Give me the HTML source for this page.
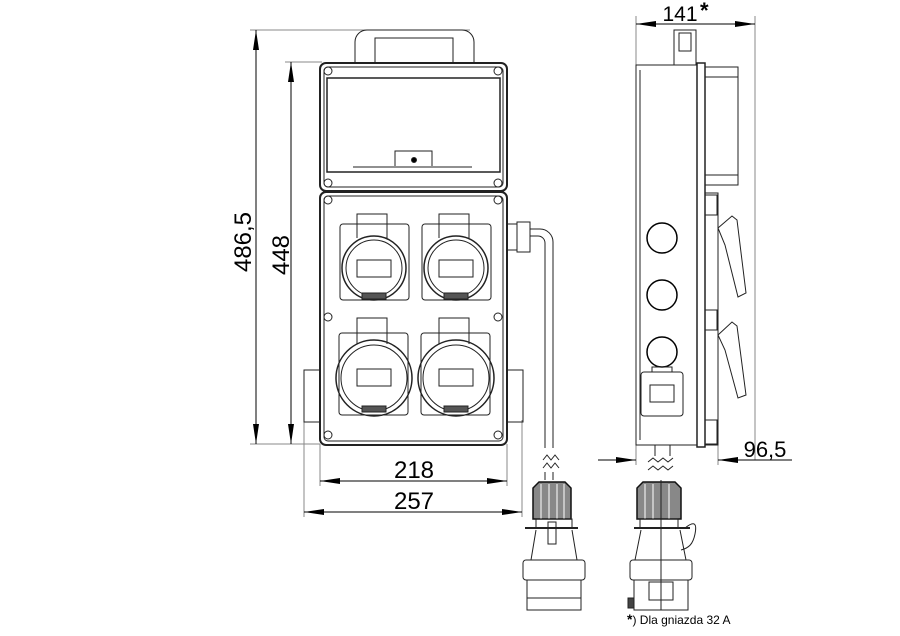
<!DOCTYPE html>
<html><head><style>body{margin:0;background:#fff}svg{display:block}text{font-family:"Liberation Sans",sans-serif;fill:#000}</style></head><body>
<svg width="900" height="636" viewBox="0 0 900 636" xmlns="http://www.w3.org/2000/svg">
<defs>
<marker id="a" viewBox="0 0 20 6" refX="20" refY="3" markerWidth="20" markerHeight="6" orient="auto-start-reverse" markerUnits="userSpaceOnUse"><path d="M0,0L20,3L0,6z" fill="#000"/></marker>
</defs>
<g fill="none" stroke="#888" stroke-width="1">
<line x1="250" y1="30" x2="470" y2="30"/>
<line x1="250" y1="444" x2="320" y2="444"/>
<line x1="285" y1="62" x2="322" y2="62"/>
<line x1="320" y1="444" x2="320" y2="486"/>
<line x1="507" y1="444" x2="507" y2="486"/>
<line x1="304" y1="420" x2="304" y2="517"/>
<line x1="522" y1="420" x2="522" y2="517"/>
<line x1="636" y1="16" x2="636" y2="65"/>
<line x1="755" y1="16" x2="755" y2="460"/>
<line x1="718" y1="445" x2="718" y2="465"/>
<line x1="636" y1="445" x2="636" y2="465"/>
</g>
<g stroke="#000" stroke-width="1" fill="none">
<line x1="256" y1="30" x2="256" y2="444" marker-start="url(#a)" marker-end="url(#a)"/>
<line x1="291" y1="62" x2="291" y2="444" marker-start="url(#a)" marker-end="url(#a)"/>
<line x1="320" y1="481" x2="507" y2="481" marker-start="url(#a)" marker-end="url(#a)"/>
<line x1="304" y1="512" x2="522" y2="512" marker-start="url(#a)" marker-end="url(#a)"/>
<line x1="636" y1="24" x2="755" y2="24" marker-start="url(#a)" marker-end="url(#a)"/>
<line x1="598" y1="460" x2="636" y2="460" marker-end="url(#a)"/>
<line x1="718" y1="460" x2="792" y2="460" marker-start="url(#a)"/>
</g>
<text x="243" y="242" font-size="24" text-anchor="middle" transform="rotate(-90 243 242)" dy="8">486,5</text>
<text x="281" y="255" font-size="24" text-anchor="middle" transform="rotate(-90 281 255)" dy="8">448</text>
<text x="414" y="478" font-size="24" text-anchor="middle">218</text>
<text x="414" y="509" font-size="24" text-anchor="middle">257</text>
<text x="680" y="21" font-size="21" text-anchor="middle">141</text><text x="700" y="18" font-size="22" font-weight="bold">*</text>
<text x="765" y="457" font-size="22" text-anchor="middle">96,5</text>
<text x="627" y="624" font-size="12"><tspan font-weight="bold" font-size="14">*</tspan>) Dla gniazda 32 A</text>

<g stroke="#222" stroke-width="1" fill="none">
<path d="M355,62V42a12,12 0 0 1 12,-12H462a12,12 0 0 1 12,12V62"/>
<path d="M375,62V38H453V62"/>
<rect x="320" y="63" width="187" height="128" rx="6" stroke-width="2"/>
<rect x="324" y="67" width="179" height="120" rx="4"/>
<rect x="327" y="78" width="173" height="94" stroke-width="1.5"/>
<path d="M353,167H472M395,166V151H432V166"/>
<circle cx="414" cy="160" r="2.5" fill="#000"/>
<rect x="320" y="192" width="187" height="253" rx="6" stroke-width="2"/>
<rect x="324" y="196" width="179" height="245" rx="4"/>
<g>
<circle cx="328" cy="71" r="4"/><circle cx="498" cy="71" r="4"/><circle cx="328" cy="183" r="4"/><circle cx="498" cy="183" r="4"/>
<circle cx="328" cy="200" r="4"/><circle cx="498" cy="200" r="4"/><circle cx="328" cy="317" r="4"/><circle cx="498" cy="317" r="4"/><circle cx="328" cy="435" r="4"/><circle cx="498" cy="435" r="4"/>
</g>
<g>
<rect x="340" y="224" width="69" height="76" rx="3"/>
<path d="M357,238V214H387V238"/>
<circle cx="374" cy="268" r="32" stroke-width="1.5"/>
<circle cx="374" cy="268" r="28"/>
<rect x="357" y="260" width="34" height="17"/>
<rect x="362" y="293" width="24" height="6" fill="#555"/>
</g>
<g transform="translate(82,0)">
<rect x="340" y="224" width="69" height="76" rx="3"/>
<path d="M357,238V214H387V238"/>
<circle cx="374" cy="268" r="32" stroke-width="1.5"/>
<circle cx="374" cy="268" r="28"/>
<rect x="357" y="260" width="34" height="17"/>
<rect x="362" y="293" width="24" height="6" fill="#555"/>
</g>
<g>
<rect x="339" y="333" width="69" height="82" rx="3"/>
<path d="M357,344V318H387V344"/>
<circle cx="374" cy="378" r="38" stroke-width="1.5"/>
<circle cx="374" cy="378" r="33"/>
<rect x="357" y="369" width="34" height="17"/>
<rect x="362" y="406" width="24" height="6" fill="#555"/>
</g>
<g transform="translate(82,0)">
<rect x="339" y="333" width="69" height="82" rx="3"/>
<path d="M357,344V318H387V344"/>
<circle cx="374" cy="378" r="38" stroke-width="1.5"/>
<circle cx="374" cy="378" r="33"/>
<rect x="357" y="369" width="34" height="17"/>
<rect x="362" y="406" width="24" height="6" fill="#555"/>
</g>
<rect x="304" y="370" width="16" height="52"/><rect x="507" y="370" width="16" height="52"/>
<rect x="507" y="224" width="10" height="26"/><rect x="517" y="222" width="13" height="30"/>
<path d="M530,229H540a13,13 0 0 1 13,13V448M530,236H538a7,7 0 0 1 7,7V448"/>
<path d="M543,460l4,-5l4,5l4,-5l4,5M543,468l4,-5l4,5l4,-5l4,5"/>
<path d="M545,472V480M553,472V480"/>
<path d="M533,519V488l6,-6H565l6,6V519Z" fill="#888" stroke="#111" stroke-width="1.5"/>
<path d="M541,519V484M549,519V484M557,519V484M564,519V484" stroke="#fff"/>
<rect x="536" y="519" width="36" height="9"/>
<line x1="525" y1="528" x2="578" y2="528" stroke-width="2"/>
<path d="M536,530L531,560H577L572,530"/>
<rect x="548" y="522" width="8" height="22"/>
<rect x="523" y="560" width="62" height="20" rx="3"/>
<rect x="527" y="580" width="54" height="30"/>
<line x1="527" y1="598" x2="581" y2="598"/>
</g>

<g stroke="#222" stroke-width="1" fill="none">
<rect x="674" y="30" width="22" height="35"/><rect x="679" y="33" width="12" height="18"/>
<rect x="636" y="65" width="61" height="380"/>
<line x1="640" y1="70" x2="640" y2="440"/>
<rect x="697" y="63" width="8" height="384" stroke-width="1.5"/>
<rect x="705" y="67" width="33" height="118"/><line x1="705" y1="77" x2="738" y2="77"/><line x1="705" y1="175" x2="738" y2="175"/>
<rect x="705" y="193" width="13" height="252"/>
<rect x="705" y="195" width="12" height="20"/><rect x="705" y="310" width="12" height="20"/><rect x="705" y="420" width="12" height="24"/>
<path d="M718,228L732,216L737,220L746,293L738,297L725,245Z"/>
<path d="M718,335L732,322L737,326L746,395L738,398L725,350Z"/>
<circle cx="662" cy="238" r="15" stroke="#000" stroke-width="1.5"/><circle cx="662" cy="295" r="15" stroke="#000" stroke-width="1.5"/><circle cx="662" cy="352" r="15" stroke="#000" stroke-width="1.5"/>
<rect x="641" y="372" width="42" height="44" rx="3"/><path d="M652,372v-5h20v5"/><rect x="650" y="385" width="24" height="17"/>
<path d="M655,445V456M670,445V456M648,462l5,-4l5,4l5,-4l5,4l5,-4M648,470l5,-4l5,4l5,-4l5,4l5,-4"/>
<path d="M637,519V488l6,-6H675l6,6V519Z" fill="#888" stroke="#111" stroke-width="1.5"/>
<path d="M645,519V484M653,519V484M661,519V484M669,519V484" stroke="#fff"/>
<rect x="640" y="519" width="38" height="9"/>
<line x1="634" y1="528" x2="690" y2="528" stroke-width="2"/>
<path d="M685,528c10,-8 12,-4 10,6c-2,10 -6,14 -14,16"/>
<path d="M641,530L635,560H686L680,530"/>
<rect x="630" y="560" width="62" height="20" rx="3"/>
<rect x="634" y="580" width="54" height="30"/>
<rect x="649" y="582" width="24" height="18"/>
<line x1="661" y1="480" x2="661" y2="610"/>
<rect x="628" y="598" width="6" height="10" fill="#444"/>
</g>
</svg>
</body></html>
